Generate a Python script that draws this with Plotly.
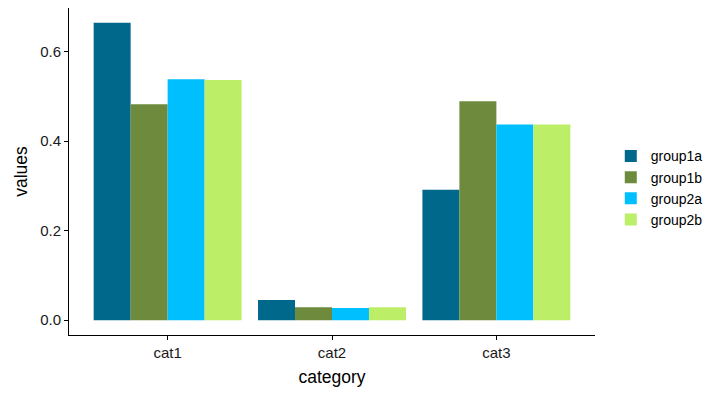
import plotly.graph_objects as go

categories = ["cat1", "cat2", "cat3"]
groups = ["group1a", "group1b", "group2a", "group2b"]
group1a = [0.664, 0.045, 0.291]
group1b = [0.482, 0.029, 0.489]
group2a = [0.538, 0.027, 0.437]
group2b = [0.536, 0.029, 0.437]
series = [group1a, group1b, group2a, group2b]
colors = ["#00688B", "#6E8B3D", "#00BFFF", "#BCEE68"]

fig = go.Figure()
for name, vals, col in zip(groups, series, colors):
    fig.add_trace(go.Bar(x=categories, y=vals, name=name,
                         marker=dict(color=col, line=dict(width=0))))

fig.update_layout(
    width=726, height=399,
    margin=dict(l=69, r=131, t=8, b=64, autoexpand=False),
    paper_bgcolor="white", plot_bgcolor="white",
    barmode="group", bargap=0.1, bargroupgap=0,
    font=dict(family="Liberation Sans, Arial, sans-serif", color="black", size=15),
    legend=dict(x=1.03, xanchor="left", y=0.45, yanchor="middle",
                font=dict(size=14, color="black"), tracegroupgap=0, itemwidth=30),
    xaxis=dict(range=[-0.6, 2.6], showline=True, linecolor="black", linewidth=1,
               ticks="outside", ticklen=4, tickcolor="black", showgrid=False,
               automargin=False,
               title=dict(text="category", font=dict(size=17.5), standoff=10),
               tickfont=dict(size=15, color="#1a1a1a")),
    yaxis=dict(range=[-0.0332, 0.697], showline=True, linecolor="black", linewidth=1,
               ticks="outside", ticklen=4, tickcolor="black", showgrid=False,
               automargin=False,
               zeroline=False, tickvals=[0, 0.2, 0.4, 0.6], tickformat=".1f",
               title=dict(text="values", font=dict(size=17.5), standoff=8),
               tickfont=dict(size=15, color="#1a1a1a")),
)
fig.write_html("out.html", config={"displayModeBar": False},
               post_script="document.body.style.margin='0';")
